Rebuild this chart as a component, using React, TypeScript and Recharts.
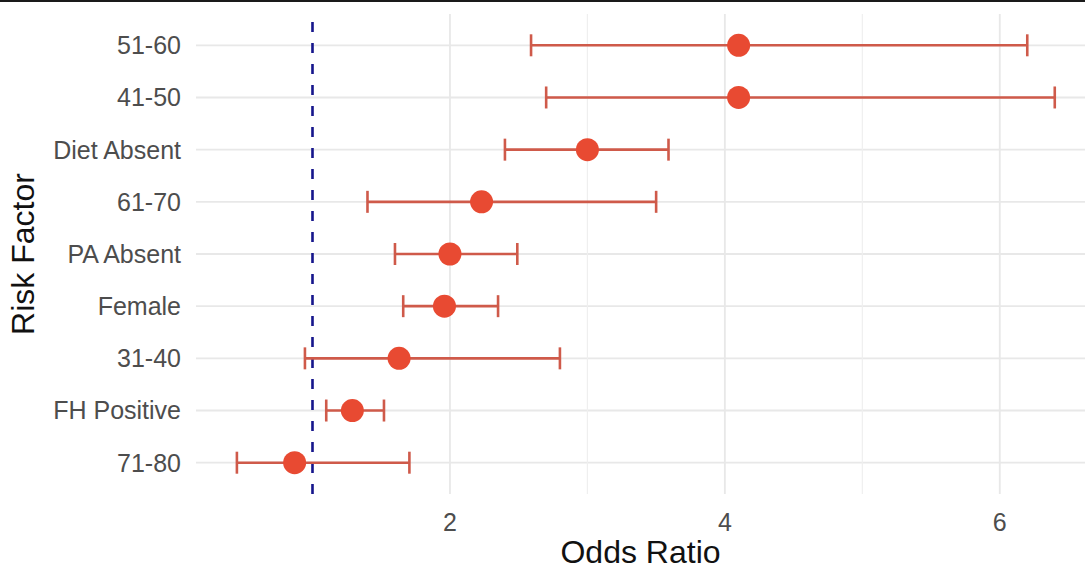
import {
  ScatterChart,
  Scatter,
  XAxis,
  YAxis,
  ReferenceLine,
  ErrorBar,
  Label,
} from "recharts";

// risk factors, top to bottom as in the plot
const factors = [
  "51-60",
  "41-50",
  "Diet Absent",
  "61-70",
  "PA Absent",
  "Female",
  "31-40",
  "FH Positive",
  "71-80",
];
const oddsRatio = [4.1, 4.1, 3.0, 2.23, 2.0, 1.96, 1.63, 1.29, 0.87];
const ciLower = [2.59, 2.7, 2.4, 1.4, 1.6, 1.66, 0.945, 1.1, 0.45];
const ciUpper = [6.2, 6.4, 3.59, 3.5, 2.49, 2.35, 2.8, 1.52, 1.705];

const xTicks = [2, 4, 6];
const xMinorTicks = [3, 5];
const nullLine = 1;

// y = row index from the bottom, so the first factor sits on top
const rows = factors.map((name, i) => ({
  name,
  y: factors.length - 1 - i,
  or: oddsRatio[i],
  err: [oddsRatio[i] - ciLower[i], ciUpper[i] - oddsRatio[i]],
}));
const yTicks = rows.map((r) => r.y);

const FONT = "'Liberation Sans', Arial, sans-serif";

const Dot = (props: any) => (
  <circle cx={props.cx} cy={props.cy} r={11.5} fill="#e84a32" />
);

const App = () => {
  return (
    <div style={{ position: "absolute", left: 0, top: 0, width: 1085, height: 569, background: "#fff" }}>
      {/* thin dark rule along the top edge */}
      <div style={{ position: "absolute", left: 0, top: 0, width: 1085, height: 2, background: "#1a1a1a" }} />
      <ScatterChart
        width={1085}
        height={569}
        margin={{ top: 14, right: 0, left: 0, bottom: 0 }}
        style={{ fontFamily: FONT }}
      >
        {/* grid as reference lines so there is no frame around the panel */}
        {yTicks.map((v) => (
          <ReferenceLine key={"h" + v} y={v} stroke="#e8e8e8" strokeWidth={1.8} />
        ))}
        {xTicks.map((v) => (
          <ReferenceLine key={"v" + v} x={v} stroke="#e8e8e8" strokeWidth={1.8} />
        ))}
        {xMinorTicks.map((v) => (
          <ReferenceLine key={"m" + v} x={v} stroke="#efefef" strokeWidth={1.2} />
        ))}
        <XAxis
          type="number"
          dataKey="or"
          domain={[0.1525, 6.62]}
          allowDataOverflow
          ticks={xTicks}
          axisLine={false}
          tickLine={false}
          tickSize={0}
          tickMargin={19}
          height={75}
          tick={{ fontSize: 25, fill: "#4d4d4d", fontFamily: FONT }}
        >
          <Label
            content={(p: any) => (
              <text
                x={p.viewBox.x + p.viewBox.width / 2}
                y={563}
                textAnchor="middle"
                fontSize={32}
                fill="#111"
                fontFamily={FONT}
              >
                Odds Ratio
              </text>
            )}
          />
        </XAxis>
        <YAxis
          type="number"
          dataKey="y"
          domain={[-0.6, factors.length - 1 + 0.6]}
          ticks={yTicks}
          interval={0}
          tickFormatter={(v: number) => factors[factors.length - 1 - v]}
          axisLine={false}
          tickLine={false}
          tickSize={0}
          tickMargin={15}
          width={196}
          tick={{ fontSize: 25, fill: "#4d4d4d", fontFamily: FONT }}
        >
          <Label
            content={(p: any) => {
              const cy = p.viewBox.y + p.viewBox.height / 2;
              return (
                <text
                  x={34}
                  y={cy}
                  transform={`rotate(-90, 34, ${cy})`}
                  textAnchor="middle"
                  fontSize={32}
                  fill="#111"
                  fontFamily={FONT}
                >
                  Risk Factor
                </text>
              );
            }}
          />
        </YAxis>
        <ReferenceLine
          x={nullLine}
          stroke="#16168c"
          strokeWidth={2.6}
          strokeDasharray="10 11"
        />
        <Scatter data={rows} shape={Dot} isAnimationActive={false}>
          <ErrorBar
            dataKey="err"
            direction="x"
            width={11}
            stroke="#cf5a4a"
            strokeWidth={2.6}
            isAnimationActive={false}
          />
        </Scatter>
      </ScatterChart>
    </div>
  );
};

export default App;
